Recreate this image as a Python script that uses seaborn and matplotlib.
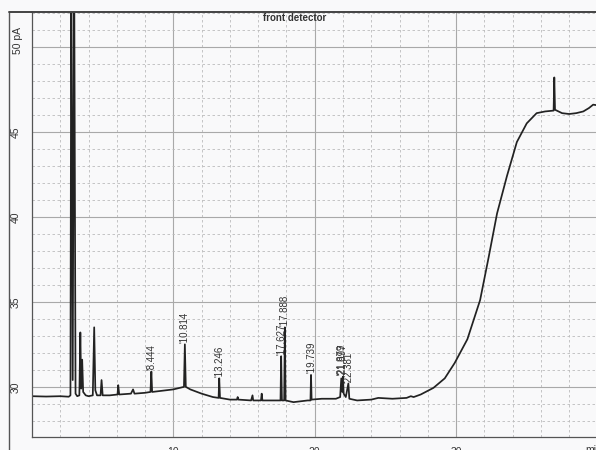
import matplotlib
matplotlib.use("Agg")
import matplotlib.pyplot as plt
from matplotlib.lines import Line2D
from matplotlib.ticker import MultipleLocator
import seaborn as sns
import pandas as pd

# trace: retention time (min) and detector signal (pA)
time_min = [0.0, 1.0, 2.0, 2.6, 2.72, 2.78, 2.88, 2.98, 3.08, 3.2, 3.35, 3.42, 3.48, 3.55, 3.62,
            3.8, 4.0, 4.3, 4.4, 4.48, 4.6, 4.85, 4.92, 5.0, 5.5, 6.05, 6.1, 6.17, 7.0, 7.15,
            7.25, 8.0, 8.38, 8.444, 8.5, 9.0, 9.5, 10.0, 10.5, 10.75, 10.814, 10.88, 11.2, 12.0,
            12.8, 13.2, 13.246, 13.3, 14.0, 14.5, 14.55, 14.6, 15.5, 15.6, 15.65, 16.2, 16.25,
            16.3, 17.0, 17.58, 17.627, 17.68, 17.84, 17.888, 17.94, 18.5, 19.0, 19.5, 19.7,
            19.739, 19.78, 20.5, 21.5, 21.8, 21.88, 21.95, 21.997, 22.05, 22.2, 22.381, 22.45,
            23.0, 24.0, 24.5, 25.5, 26.5, 26.8, 27.0, 27.5, 28.4, 29.2, 29.9, 30.8, 31.7,
            32.3, 32.9, 33.6, 34.3, 35.0, 35.7, 36.3, 36.9, 36.95, 37.0, 37.5, 38.0, 38.5,
            39.0, 39.4, 39.7, 40.5]
signal_pa = [29.45, 29.43, 29.45, 29.42, 29.5, 56.0, 30.4, 56.0, 29.6, 29.45, 29.5, 33.2, 29.9, 31.6, 29.7,
             29.5, 29.45, 29.5, 33.5, 29.8, 29.5, 29.5, 30.4, 29.5, 29.5, 29.55, 30.1, 29.55, 29.6, 29.85,
             29.6, 29.65, 29.7, 30.9, 29.7, 29.75, 29.8, 29.85, 29.95, 30.0, 32.5, 30.0, 29.85, 29.6,
             29.4, 29.35, 30.5, 29.35, 29.25, 29.25, 29.4, 29.25, 29.2, 29.5, 29.2, 29.2, 29.6,
             29.2, 29.2, 29.2, 31.8, 29.2, 29.2, 33.5, 29.2, 29.1, 29.15, 29.2, 29.2,
             30.7, 29.25, 29.3, 29.3, 29.4, 30.5, 29.7, 30.6, 29.6, 29.4, 30.2, 29.3,
             29.2, 29.25, 29.35, 29.3, 29.35, 29.45, 29.4, 29.55, 29.94, 30.5, 31.4, 32.8, 35.1,
             37.6, 40.2, 42.4, 44.4, 45.5, 46.1, 46.2, 46.25, 48.2, 46.3, 46.1, 46.05, 46.1,
             46.2, 46.4, 46.6, 46.5]

# labelled peaks
peak_names = ["8.444", "10.814", "13.246", "17.627", "17.888", "19.739", "21.879", "21.997", "22.381"]
peak_time = [8.444, 10.814, 13.246, 17.627, 17.888, 19.739, 21.88, 21.997, 22.381]
peak_top = [30.9, 32.5, 30.5, 31.8, 33.5, 30.7, 30.6, 30.6, 30.1]

y_ticks = [30, 35, 40, 45]
x_ticks = [10, 20, 30]

sns.set_theme(style="white")
plt.rcParams["font.family"] = ["Liberation Sans", "DejaVu Sans"]

paper = "#f9f9fa"
fig = plt.figure(figsize=(5.96, 4.5), dpi=100, facecolor=paper)
ax = fig.add_axes([32 / 596, 13 / 450, 564 / 596, 425 / 450])
ax.set_facecolor(paper)

df = pd.DataFrame({"time": time_min, "signal": signal_pa})
sns.lineplot(data=df, x="time", y="signal", ax=ax, sort=False, estimator=None,
             color="#222222", linewidth=1.25)

ax.set_xlim(0, 39.9)
ax.set_ylim(27.05, 52.05)
ax.set_xlabel("")
ax.set_ylabel("")

ax.xaxis.set_major_locator(MultipleLocator(10))
ax.xaxis.set_minor_locator(MultipleLocator(2))
ax.yaxis.set_major_locator(MultipleLocator(5))
ax.yaxis.set_minor_locator(MultipleLocator(1))
ax.set_xticks(x_ticks)
ax.set_yticks(y_ticks + [50])
ax.set_yticklabels([str(v) for v in y_ticks] + [""])
ax.tick_params(axis="both", which="both", direction="out", color="#555555",
               labelsize=7.5, labelcolor="#333333")
ax.tick_params(axis="both", which="major", length=4, width=0.8)
ax.tick_params(axis="both", which="minor", length=3, width=0.7)
ax.tick_params(axis="y", pad=4)
for lab in ax.get_yticklabels():
    lab.set_rotation(90)
    lab.set_va("center")
ax.tick_params(axis="x", pad=3)

ax.grid(True, which="major", color="#a9a9a9", linewidth=0.8)
ax.grid(True, which="minor", color="#bcbcbc", linewidth=0.6, linestyle=(0, (3, 3)))

for side in ["left", "bottom"]:
    ax.spines[side].set_color("#555555")
    ax.spines[side].set_linewidth(0.9)
ax.spines["top"].set_color("#444444")
ax.spines["top"].set_linewidth(1.4)
ax.spines["right"].set_visible(False)

# y unit label at the top tick
ax.text(-0.024, 49.55, "50 pA", transform=ax.get_yaxis_transform(), rotation=90,
        rotation_mode="anchor", ha="left", va="center", fontsize=7.5, color="#333333")

# peak retention-time labels
for name, t, top in zip(peak_names, peak_time, peak_top):
    ax.text(t, top + 0.1, "'" + name, rotation=90, ha="center", va="bottom",
            fontsize=7, color="#333333")

ax.text(0.465, 0.997, "front detector", transform=ax.transAxes, ha="center", va="top",
        fontsize=7, fontweight="bold", color="#333333")
fig.text(585 / 596, 0.012, "min", ha="left", va="top", fontsize=7.5, color="#333333")

# page frame of the scanned print
fig.add_artist(Line2D([9 / 596, 9 / 596], [0, 1 - 12 / 450], color="#555555", linewidth=1.0,
                      transform=fig.transFigure))
fig.add_artist(Line2D([9 / 596, 32 / 596], [1 - 12 / 450, 1 - 12 / 450], color="#444444",
                      linewidth=1.4, transform=fig.transFigure))

fig.savefig("out.png", dpi=100, facecolor=paper)
